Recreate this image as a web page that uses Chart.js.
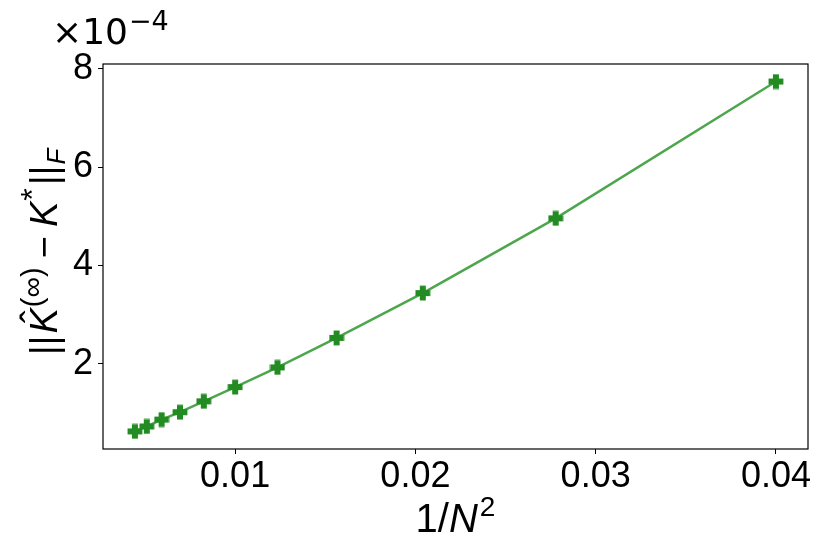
<!DOCTYPE html>
<html>
<head>
<meta charset="utf-8">
<script src="https://cdn.jsdelivr.net/npm/chart.js@4/dist/chart.umd.min.js"></script>
<style>
html,body{margin:0;padding:0;background:#fff;}
#wrap{width:830px;height:554px;}
</style>
</head>
<body>
<div id="wrap"><canvas id="c" width="830" height="554"></canvas></div>
<script>
// ---- data ----
const xValues = [0.00444, 0.00510, 0.00592, 0.00694, 0.00826, 0.01000, 0.01235, 0.01563, 0.02041, 0.02778, 0.04000];
const yValues = [0.63e-4, 0.73e-4, 0.87e-4, 1.02e-4, 1.24e-4, 1.53e-4, 1.93e-4, 2.53e-4, 3.44e-4, 4.96e-4, 7.74e-4];
const xTicks = [0.01, 0.02, 0.03, 0.04];
const yTicks = [2e-4, 4e-4, 6e-4, 8e-4];
const xLimits = [0.00267, 0.04178];
const yLimits = [0.272e-4, 8.096e-4];
const yScaleExp = 1e-4;

const points = xValues.map((x, i) => ({x: x, y: yValues[i]}));

// filled plus marker
function plusMarker(color) {
  const c = document.createElement('canvas');
  c.width = 16; c.height = 16;
  const g = c.getContext('2d');
  g.fillStyle = color;
  g.fillRect(5, 0.6, 6, 14.8);
  g.fillRect(0.6, 5, 14.8, 6);
  return c;
}
const marker = plusMarker('#228B22');

function drawRich(ctx, pieces, family) {
  let w = 0;
  pieces.forEach(p => {
    ctx.font = (p.italic ? 'italic ' : '') + p.size + 'px ' + family;
    p.w = ctx.measureText(p.t).width;
    w += (p.gap || 0) + p.w;
  });
  return w;
}
function renderRich(ctx, pieces, family, x0, y0) {
  let x = x0;
  pieces.forEach(p => {
    x += (p.gap || 0);
    ctx.font = (p.italic ? 'italic ' : '') + p.size + 'px ' + family;
    ctx.fillText(p.t, x, y0 + (p.dy || 0));
    if (p.hat) {
      ctx.font = p.size + 'px ' + family;
      ctx.fillText('\u02C6', x + p.w * 0.42, y0 + (p.dy || 0) - 9);
    }
    x += p.w;
  });
}

const textPlugin = {
  id: 'texts',
  afterDraw(chart) {
    const ctx = chart.ctx;
    const a = chart.chartArea;
    ctx.save();
    // frame
    ctx.strokeStyle = '#000';
    ctx.lineWidth = 1.2;
    ctx.strokeRect(a.left, a.top, a.right - a.left, a.bottom - a.top);
    ctx.fillStyle = '#000';
    ctx.textBaseline = 'alphabetic';
    ctx.textAlign = 'left';
    const fam = '"Liberation Sans", Arial, sans-serif';

    // x label 1/N^2
    const xl = [
      {t: '1/', size: 40},
      {t: 'N', size: 40, italic: true},
      {t: '2', size: 28, dy: -16, gap: 2}
    ];
    const xw = drawRich(ctx, xl, fam);
    renderRich(ctx, xl, fam, (a.left + a.right) / 2 - xw / 2, 532);

    // y label ||K^(inf) - K*||_F
    const yl = [
      {t: '||', size: 38},
      {t: 'K', size: 38, italic: true, hat: true, gap: 2},
      {t: '(\u221E)', size: 29, dy: -15, gap: 1},
      {t: '\u2212', size: 38, gap: 9},
      {t: 'K', size: 38, italic: true, gap: 9},
      {t: '*', size: 32, dy: -14, gap: 1},
      {t: '||', size: 38, gap: 3},
      {t: 'F', size: 26, italic: true, dy: 8, gap: 1}
    ];
    const yw = drawRich(ctx, yl, fam);
    ctx.save();
    ctx.translate(57, 252);
    ctx.rotate(-Math.PI / 2);
    renderRich(ctx, yl, fam, -yw / 2, 0);
    ctx.restore();

    // offset text x10^-4
    const dv = '"DejaVu Sans", sans-serif';
    ctx.font = '36px ' + dv;
    ctx.fillText('\u00D710', 52, 44);
    const w10 = ctx.measureText('\u00D710').width;
    ctx.font = '27px ' + dv;
    ctx.fillText('\u22124', 52 + w10 + 1, 30);
    ctx.restore();
  }
};

new Chart(document.getElementById('c'), {
  type: 'scatter',
  data: {
    datasets: [
      {
        data: points,
        showLine: true,
        borderColor: 'rgba(0,128,0,0.7)',
        borderWidth: 2.5,
        pointRadius: 0,
        tension: 0,
        fill: false,
        order: 2
      },
      {
        data: points,
        showLine: false,
        pointStyle: marker,
        pointRadius: 8,
        order: 1
      }
    ]
  },
  options: {
    responsive: false,
    animation: false,
    devicePixelRatio: 1,
    layout: {padding: {top: 64, right: 22, left: 0, bottom: 0}},
    plugins: {legend: {display: false}, tooltip: {enabled: false}},
    scales: {
      x: {
        type: 'linear',
        min: xLimits[0], max: xLimits[1],
        afterFit(s) { s.height = 105; },
        afterBuildTicks(s) { s.ticks = xTicks.map(v => ({value: v})); },
        border: {display: false},
        grid: {display: true, drawOnChartArea: false, drawTicks: true, tickLength: 5, tickColor: '#000', tickWidth: 1},
        ticks: {
          color: '#000', padding: 1, maxRotation: 0, autoSkip: false,
          font: {family: '"Liberation Sans", Arial, sans-serif', size: 36},
          callback: v => v.toFixed(2)
        }
      },
      y: {
        type: 'linear',
        min: yLimits[0], max: yLimits[1],
        afterFit(s) { s.width = 103; },
        afterBuildTicks(s) { s.ticks = yTicks.map(v => ({value: v})); },
        border: {display: false},
        grid: {display: true, drawOnChartArea: false, drawTicks: true, tickLength: 5, tickColor: '#000', tickWidth: 1},
        ticks: {
          color: '#000', padding: 5, autoSkip: false,
          font: {family: '"Liberation Sans", Arial, sans-serif', size: 36},
          callback: v => String(Math.round(v / yScaleExp))
        }
      }
    }
  },
  plugins: [textPlugin]
});
</script>
</body>
</html>
